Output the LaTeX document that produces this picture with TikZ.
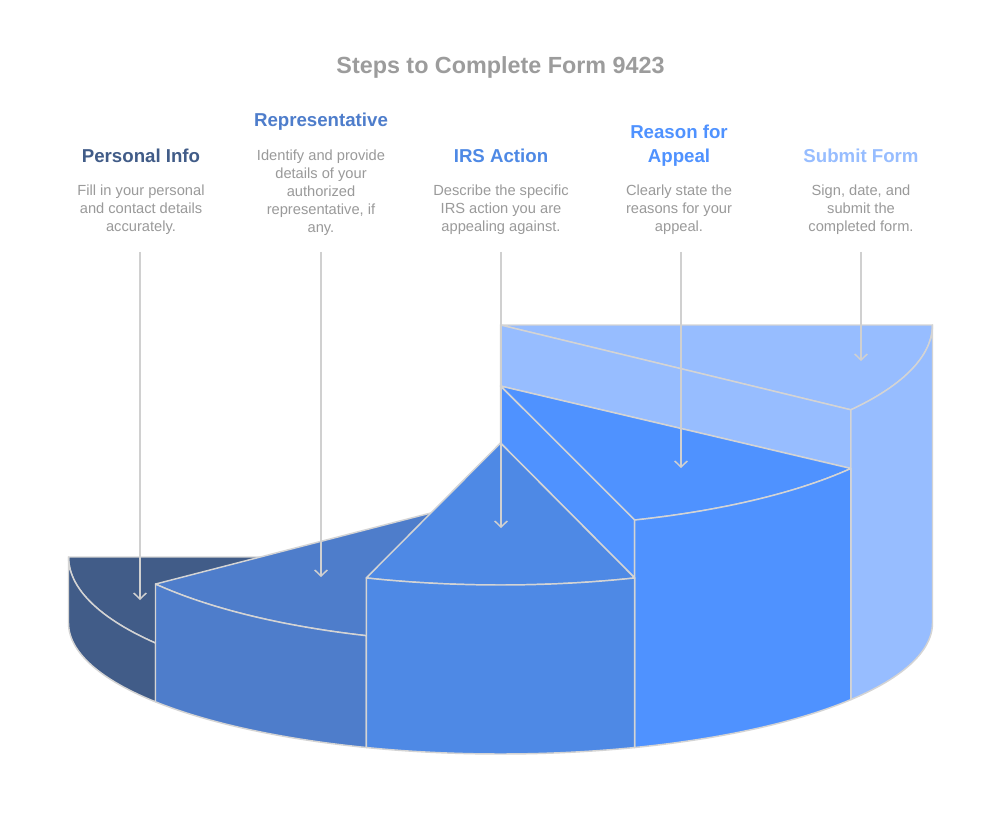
\documentclass[tikz,border=0pt]{standalone}
\usepackage{fontspec}
\setmainfont{Liberation Sans}
\usetikzlibrary{arrows.meta}
\definecolor{cP}{HTML}{415C88}
\definecolor{cR}{HTML}{4E7DCB}
\definecolor{cI}{HTML}{4E89E5}
\definecolor{cA}{HTML}{4F92FF}
\definecolor{cS}{HTML}{97BDFF}
\definecolor{edgegray}{HTML}{D4D4D4}
\definecolor{arrowgray}{HTML}{D0D0D0}
\definecolor{titlegray}{HTML}{9C9C9C}
\definecolor{bodygray}{HTML}{9A9A9A}
\begin{document}
\begin{tikzpicture}[x=0.75pt,y=-0.75pt,
  face/.style={draw=edgegray, line width=1.1pt, line join=round},
  arrowline/.style={draw=arrowgray, line width=1.1pt, -{Straight Barb[length=4.5pt,width=9.5pt]}},
  title/.style={font=\fontsize{17.5}{21}\selectfont\bfseries, text=titlegray, inner sep=0pt, anchor=base},
  head/.style={font=\fontsize{14}{18}\selectfont\bfseries, align=center, inner sep=0pt, anchor=base},
  body/.style={font=\fontsize{11}{13.5}\selectfont, text=bodygray, align=center, inner sep=0pt, anchor=base}]
\fill[white] (0,0) rectangle (992,834);
\useasboundingbox (0,0) rectangle (992,834);

% ---------- Personal Info slice (143..180) ----------
\path[face, fill=cP] (500.5,557) -- plot[domain=143:180,samples=30] ({500.5+432*cos(\x)},{557+143*sin(\x)}) -- cycle;
\path[face, fill=cP] plot[domain=143:180,samples=30] ({500.5+432*cos(\x)},{557+143*sin(\x)})
  -- plot[domain=180:143,samples=30] ({500.5+432*cos(\x)},{623+131*sin(\x)}) -- cycle;

% ---------- Representative slice (108.1..143) ----------
\path[face, fill=cR] (500.5,495) -- plot[domain=108.1:143,samples=30] ({500.5+432*cos(\x)},{495+148*sin(\x)}) -- cycle;
\path[face, fill=cR] plot[domain=108.1:143,samples=30] ({500.5+432*cos(\x)},{495+148*sin(\x)})
  -- plot[domain=143:108.1,samples=30] ({500.5+432*cos(\x)},{623+131*sin(\x)}) -- cycle;

% ---------- Submit Form slice (0..35.8) ----------
\path[face, fill=cS] (500.5,325) -- plot[domain=0:35.8,samples=30] ({500.5+432*cos(\x)},{325+145*sin(\x)}) -- cycle;
\path[face, fill=cS] (500.5,325) -- ({500.5+432*cos(35.8)},{325+145*sin(35.8)})
  -- ({500.5+432*cos(35.8)},{386+141*sin(35.8)}) -- (500.5,386) -- cycle;
\path[face, fill=cS] plot[domain=0:35.8,samples=30] ({500.5+432*cos(\x)},{325+145*sin(\x)})
  -- plot[domain=35.8:0,samples=30] ({500.5+432*cos(\x)},{623+131*sin(\x)}) -- cycle;

% ---------- Reason for Appeal slice (35.8..71.9) ----------
\path[face, fill=cA] (500.5,386) -- plot[domain=35.8:71.9,samples=30] ({500.5+432*cos(\x)},{386+141*sin(\x)}) -- cycle;
\path[face, fill=cA] (500.5,386) -- ({500.5+432*cos(71.9)},{386+141*sin(71.9)})
  -- ({500.5+432*cos(71.9)},{443+142*sin(71.9)}) -- (500.5,443) -- cycle;
\path[face, fill=cA] plot[domain=35.8:71.9,samples=30] ({500.5+432*cos(\x)},{386+141*sin(\x)})
  -- plot[domain=71.9:35.8,samples=30] ({500.5+432*cos(\x)},{623+131*sin(\x)}) -- cycle;

% ---------- IRS Action slice (71.9..108.1) ----------
\path[face, fill=cI] (500.5,443) -- plot[domain=71.9:108.1,samples=30] ({500.5+432*cos(\x)},{443+142*sin(\x)}) -- cycle;
\path[face, fill=cI] plot[domain=71.9:108.1,samples=30] ({500.5+432*cos(\x)},{443+142*sin(\x)})
  -- plot[domain=108.1:71.9,samples=30] ({500.5+432*cos(\x)},{623+131*sin(\x)}) -- cycle;

% ---------- Texts (base = baseline of last line) ----------
\node[title] (title) at (500.5,74) {Steps to Complete Form 9423};

\node[head, text=cP] (h1) at (141,163) {Personal Info};
\node[body] (b1) at (141,232) {Fill in your personal\\and contact details\\accurately.};

\node[head, text=cR] (h2) at (321,127) {Representative};
\node[body] (b2) at (321,233) {Identify and provide\\details of your\\authorized\\representative, if\\any.};

\node[head, text=cI] (h3) at (501,163) {IRS Action};
\node[body] (b3) at (501,232) {Describe the specific\\IRS action you are\\appealing against.};

\node[head, text=cA] (h4) at (679,163) {Reason for\\Appeal};
\node[body] (b4) at (679,232) {Clearly state the\\reasons for your\\appeal.};

\node[head, text=cS] (h5) at (861,163) {Submit Form};
\node[body] (b5) at (861,232) {Sign, date, and\\submit the\\completed form.};

% ---------- Arrows ----------
\coordinate (s1) at (140,252);  \coordinate (e1) at (140,600);
\coordinate (s2) at (321,252);  \coordinate (e2) at (321,577);
\coordinate (s3) at (501,252);  \coordinate (e3) at (501,528);
\coordinate (s4) at (681,252);  \coordinate (e4) at (681,468);
\coordinate (s5) at (861,252);  \coordinate (e5) at (861,361);
\draw[arrowline] (s1) -- (e1);
\draw[arrowline] (s2) -- (e2);
\draw[arrowline] (s3) -- (e3);
\draw[arrowline] (s4) -- (e4);
\draw[arrowline] (s5) -- (e5);
\end{tikzpicture}
\end{document}
